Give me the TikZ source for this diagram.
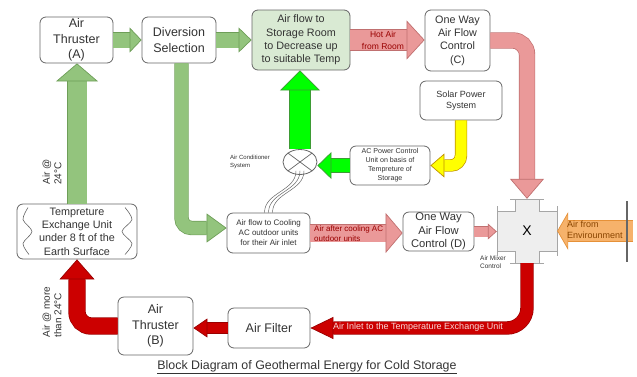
\documentclass[tikz,border=0pt]{standalone}
\usepackage{fontspec}
\setmainfont{Liberation Sans}
\usepackage{tikz}
\usetikzlibrary{arrows.meta,shapes.geometric}

\definecolor{boxline}{HTML}{666666}
\definecolor{boxtext}{HTML}{333333}
\definecolor{sage}{HTML}{93C47D}
\definecolor{sageline}{HTML}{6E9E58}
\definecolor{acgreen}{HTML}{00FF00}
\definecolor{acgreenline}{HTML}{3D9B35}
\definecolor{rose}{HTML}{EA9999}
\definecolor{roseline}{HTML}{C07070}
\definecolor{deepred}{HTML}{CC0000}
\definecolor{deepredline}{HTML}{990000}
\definecolor{sun}{HTML}{FFFF00}
\definecolor{sunline}{HTML}{BF9000}
\definecolor{amber}{HTML}{F6B26B}
\definecolor{amberline}{HTML}{E69138}
\definecolor{mint}{HTML}{D9EAD3}
\definecolor{mixfill}{HTML}{EEEEEE}
\definecolor{inletpink}{HTML}{F8D7D7}
\definecolor{envtext}{HTML}{8A4500}

\begin{document}
\begin{tikzpicture}[x=1pt,y=-1pt,
  box/.style={draw=boxline,rounded corners=6pt,line width=0.8pt,fill=white,align=center,inner sep=1pt,text=boxtext},
  big/.style={font=\fontsize{12.5}{15.5}\selectfont},
  mid/.style={font=\fontsize{10.8}{13.3}\selectfont},
  small/.style={font=\fontsize{8}{10}\selectfont},
  tiny/.style={font=\fontsize{7.1}{9}\selectfont},
  fat/.style n args={5}{draw=#1,line width=#3,
    -{Triangle[length=#5 0 1,width=#4 0 1,line width=0.7pt 0 0,color=#2,fill=#1]},
    preaction={draw=#2,line width=#3+1.4pt,-,shorten >=#5}},
  wavy/.style={draw=boxline,line width=0.6pt}]
\useasboundingbox (0,0) rectangle (637,376);

\node[box,big,minimum width=73pt,minimum height=46pt] (thrA) at (76.5,40) {Air\\Thruster\\(A)};
\node[box,big,minimum width=74pt,minimum height=46pt] (div) at (179,40) {Diversion\\Selection};
\node[box,mid,fill=mint,minimum width=98pt,minimum height=60pt] (store) at (301,40) {Air flow to\\Storage Room\\to Decrease up\\to suitable Temp};
\node[box,mid,minimum width=65pt,minimum height=61pt] (ctrlC) at (457.5,40.5) {One Way\\Air Flow\\Control\\(C)};
\node[box,font=\fontsize{9}{11}\selectfont,minimum width=82pt,minimum height=39pt] (solar) at (461,100.5) {Solar Power\\System};
\node[box,tiny,minimum width=80pt,minimum height=39pt] (acpc) at (390,165.5) {AC Power Control\\Unit on basis of\\Tempreture of\\Storage};
\node[draw=boxline,fill=white,ellipse,line width=0.8pt,minimum width=34pt,minimum height=25pt,inner sep=0pt] (ac) at (300,162) {};
\node[box,small,minimum width=83pt,minimum height=40pt] (cool) at (268.5,233) {Air flow to Cooling\\AC outdoor units\\for their Air inlet};
\node[box,font=\fontsize{11.2}{13.3}\selectfont,minimum width=71pt,minimum height=39pt] (ctrlD) at (438.5,231.5) {One Way\\Air Flow\\Control (D)};
\node[box,mid,minimum width=120pt,minimum height=55pt] (temp) at (77,231.5) {Tempreture\\Exchange Unit\\under 8 ft of the\\Earth Surface};
\node[box,big,minimum width=75pt,minimum height=58pt] (thrB) at (155.5,326) {Air\\Thruster\\(B)};
\node[box,big,minimum width=82pt,minimum height=40pt] (filter) at (269,328) {Air Filter};
\node[minimum width=60pt,minimum height=64pt,inner sep=0pt] (mix) at (527,231) {};
\coordinate (env) at (633,231);

\filldraw[fill=mixfill,draw=gray!70,shift={(mix.center)}] (-12,-32) -- (12,-32) -- (12,-20) -- (30,-20) -- (30,20) -- (12,20) -- (12,32) -- (-12,32) -- (-12,20) -- (-30,20) -- (-30,-20) -- (-12,-20) -- cycle;
\draw[gray!70,shift={(mix.center)}] (-17,-32) -- (17,-32) (-17,32) -- (17,32) (-30,-25) -- (-30,25) (30,-25) -- (30,25);
\node[font=\fontsize{14}{14}\selectfont,text=black] (mixX) at (mix.center) {X};

\draw[wavy,shift={(temp.center)}] plot[smooth] coordinates {(-49,-24) (-54,-12) (-45,0) (-54,12) (-48,23)};
\draw[wavy,shift={(temp.center)}] plot[smooth] coordinates {(48,-24) (55,-12) (45,0) (55,12) (48,23)};
\draw[boxline,line width=0.7pt] (ac.north west) -- (ac.south east) (ac.north east) -- (ac.south west);
\foreach \i in {-1,0,1}
  \draw[boxline,line width=0.5pt] ([xshift=\i*4pt,yshift=4pt]ac.south) to[out=-90,in=90] ([xshift=\i*4pt]cool.north);

\draw[fat={sage}{sageline}{15pt}{25pt}{12pt}] (thrA) -- (div);
\draw[fat={sage}{sageline}{15pt}{25pt}{13pt}] (div) -- (store);
\draw[fat={sage}{sageline}{19pt}{42pt}{18pt}] (temp.north) -- (temp.north |- thrA.south);
\draw[fat={sage}{sageline}{13pt}{29pt}{20pt},rounded corners=10pt] ([xshift=2.5pt]div.south) |- ([yshift=5pt]cool.west);
\draw[fat={rose}{roseline}{20pt}{39pt}{18pt}] (store.east) -- (store.east -| ctrlC.west);
\draw[fat={rose}{roseline}{15pt}{34pt}{20pt},rounded corners=14pt] (ctrlC.east) -| (mix.north);
\draw[fat={sun}{sunline}{11pt}{24pt}{14pt},rounded corners=10pt] (solar.south) |- (acpc.east);
\draw[fat={acgreen}{acgreenline}{13pt}{27pt}{14pt}] (acpc.west) -- (acpc.west -| ac.east);
\draw[fat={acgreen}{acgreenline}{20pt}{40pt}{20pt}] (ac.north) -- (ac.north |- store.south);
\draw[fat={rose}{roseline}{17pt}{40pt}{17pt}] (cool.east) -- (cool.east -| ctrlD.west);
\draw[fat={rose}{roseline}{10pt}{16pt}{9pt}] (ctrlD.east) -- (ctrlD.east -| mix.west);
\draw[fat={amber}{amberline}{20pt}{38pt}{11pt}] (env) -- (mix.east);
\draw[line width=2pt,color=gray!80!black] ([xshift=-6pt,yshift=30pt]env) -- ([xshift=-6pt,yshift=-31pt]env);
\draw[fat={deepred}{deepredline}{12pt}{22pt}{23pt},rounded corners=20pt] (mix.south) |- (filter.east);
\draw[fat={deepred}{deepredline}{10pt}{19pt}{14pt}] (filter.west) -- (filter.west -| thrB.east);
\draw[fat={deepred}{deepredline}{16pt}{35pt}{20pt},rounded corners=14pt] (thrB.west) -| (temp.south);

\node[font=\fontsize{8.5}{11.5}\selectfont,text=deepredline,align=center,inner sep=0pt] (hotlbl) at (383,40.5) {Hot Air\\from Room};
\node[font=\fontsize{8}{10}\selectfont,text=deepredline,align=left,anchor=west,inner sep=0pt] (coollbl) at (314,233.5) {Air after cooling AC\\outdoor units};
\node[font=\fontsize{9}{11}\selectfont,text=envtext,align=left,anchor=west,inner sep=0pt] (envlbl) at (567,230) {Air from\\Envirounment};
\node[font=\fontsize{9}{9}\selectfont,text=inletpink,anchor=west,inner sep=0pt] (inletlbl) at (333,327.5) {Air Inlet to the Temperature Exchange Unit};
\node[font=\fontsize{6}{7.5}\selectfont,text=boxtext,align=left,inner sep=0pt] (aclbl) at (250,162) {Air Conditioner\\System};
\node[font=\fontsize{6.5}{8.5}\selectfont,text=boxtext,align=left,inner sep=0pt] (mixlbl) at (493,262) {Air Mixer\\Control};
\node[rotate=90,font=\fontsize{10}{11.5}\selectfont,text=boxtext,align=left,inner sep=0pt] (lbl24) at (52,172) {Air @\\24°C};
\node[rotate=90,font=\fontsize{10}{11.5}\selectfont,text=boxtext,align=left,inner sep=0pt] (lblmore) at (52,312) {Air @ more\\than 24°C};
\node[font=\fontsize{12.4}{14}\selectfont,text=boxtext] (title) at (307,367) {\underline{Block Diagram of Geothermal Energy for Cold Storage}};
\end{tikzpicture}
\end{document}
